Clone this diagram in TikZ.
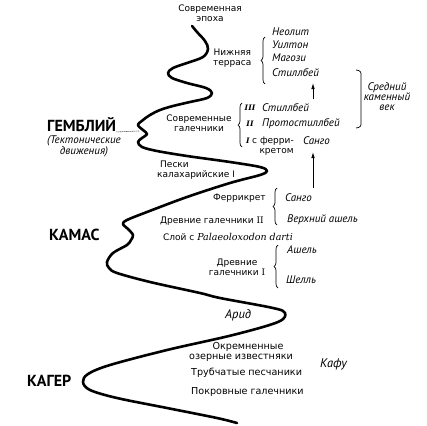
\documentclass[tikz,border=0pt]{standalone}
\usepackage{fontspec}
\setmainfont{DejaVu Sans}
\newfontfamily\ptf{PT Sans}
\newfontfamily\dsf{DejaVu Serif}
\usetikzlibrary{arrows.meta,decorations.pathreplacing}
\begin{document}
\begin{tikzpicture}[x=1pt,y=-1pt,
  lab/.style={font=\fontsize{9}{10}\selectfont, inner sep=0pt, align=center},
  labb/.style={font=\fontsize{9.6}{10}\selectfont, inner sep=0pt, align=center},
  itl/.style={font=\ptf\itshape\fontsize{11}{10}\selectfont, inner sep=0pt, align=center},
  itlbig/.style={font=\ptf\itshape\fontsize{12.5}{13}\selectfont, inner sep=0pt},
  big/.style={font=\ptf\bfseries\fontsize{16}{17}\selectfont, inner sep=0pt},
  rom/.style={font=\dsf\bfseries\itshape\fontsize{7.5}{9}\selectfont, inner sep=0pt},
  brc/.style={decorate, decoration={brace, amplitude=4pt}, line width=0.7pt},
  arr/.style={-{Latex[length=6pt,width=3.5pt]}, line width=0.8pt},
  gdash/.style={dash pattern=on 1.2pt off 0.8pt, line width=0.6pt},
  river/.style={line width=2.6pt, line cap=round, line join=round}]
\useasboundingbox[fill=white] (0,0) rectangle (427,425);

% the river curve
\draw[river] plot[smooth, tension=0.55] coordinates {
 (192,26) (197,32) (205,41) (208,49) (203,57) (187,63) (173,68) (168,73)
 (172,78) (187,83) (206,88) (212,93) (207,98) (190,102) (173,106) (160,110)
 (150,115) (143,120) (138,125) (143,130) (147,134) (142,138) (138,142)
 (142,147) (157,151) (187,156) (230,162) (260,167) (267,171) (260,175)
 (230,183) (187,197) (147,212) (127,220) (123,224) (128,229) (133,235)
 (131,240) (127,245) (113,253) (107,262) (109,268) (117,273) (150,282)
 (200,293) (220,298) (273,308) (285,313) (278,322) (233,335) (167,350)
 (110,365) (88,374) (83,382) (90,390) (117,398) (167,408) (217,418) (237,423)};

% top
\node[lab] (sovr) at (210,13) {Современная\\эпоха};
\node[lab, anchor=west] (nizh) at (213,58) {Нижняя\\терраса};
\node[itl, anchor=west] (neol) at (272,32) {Неолит};
\node[itl, anchor=west] (uilt) at (272,45) {Уилтон};
\node[itl, anchor=west] (magz) at (272,58) {Магози};
\node[itl, anchor=west] (stil1) at (272,73) {Стиллбей};
\draw[brc] (265,84) -- (265,37);
\coordinate (a1s) at (313,99);
\coordinate (a1e) at (313,83);
\draw[arr] (a1s) -- (a1e);

\draw[line width=0.7pt, rounded corners=2.5pt] (356,70) -- (361,71) -- (361,127) -- (356,128);
\node[itl] (sred) at (387,97) {Средний\\каменный\\век};

% modern gravels
\node[lab] (sgal) at (199,123) {Современные\\галечники};
\draw[brc] (242,147) -- (242,103);
\node[rom] (r3) at (250,108) {III};
\node[itl, anchor=west] (st3) at (262,108) {Стиллбей};
\node[rom] (r2) at (250,124) {II};
\node[itl, anchor=west] (prot) at (262,124) {Протостиллбей};
\node[rom, anchor=west] (r1) at (246,141) {I};
\node[lab, anchor=west, align=right] (fer1) at (252,146) {с ферри-\\кретом};
\node[itl, anchor=west] (sango1) at (303,141) {Санго};
\coordinate (a2s) at (313,188);
\coordinate (a2e) at (313,152);
\draw[arr] (a2s) -- (a2e);

% Gembliy
\node[big, anchor=west] (gem) at (47,125) {ГЕМБЛИЙ};
\coordinate (gemc) at (139,131);
\draw[gdash] (gem.base east) -- (gemc);
\node[itl] (tekt) at (84,146) {(Тектонические\\движения)};

% middle
\node[lab, anchor=west, align=left] (pesk) at (157,170) {\hspace{3pt}Пески\\калахарийские I};
\node[lab, anchor=west] (ferk) at (213,198) {Феррикрет};
\draw[brc] (277,225) -- (277,188);
\node[itl, anchor=west] (sango2) at (285,198) {Санго};
\node[itl, anchor=west] (verh) at (287,220) {Верхний ашель};
\node[lab, anchor=west] (drev2) at (160,221) {Древние галечники {\dsf II}};
\node[lab, anchor=west] (sloy) at (163,237) {Слой с {\dsf\itshape\fontsize{9.5}{10}\selectfont Palaeoloxodon darti}};
\node[big, anchor=west] (kamas) at (49,235) {КАМАС};

\node[lab] (drev1) at (237,267) {Древние\\галечники {\dsf I}};
\draw[brc] (278,288) -- (278,245);
\node[itl, anchor=west] (ashel) at (287,250) {Ашель};
\node[itl, anchor=west] (shell) at (286,280) {Шелль};

% bottom
\node[itlbig, anchor=west] (arid) at (225,315) {Арид};
\node[labb] (okr) at (241,352) {\hspace*{14pt}Окремненные\\озерные известняки};
\node[labb, anchor=west] (trub) at (191,373) {Трубчатые песчаники};
\node[labb, anchor=west] (pokr) at (191,392) {Покровные галечники};
\node[itlbig, anchor=west] (kafu) at (320,364) {Кафу};
\node[big, anchor=west] (kager) at (27,381) {КАГЕР};
\end{tikzpicture}
\end{document}
